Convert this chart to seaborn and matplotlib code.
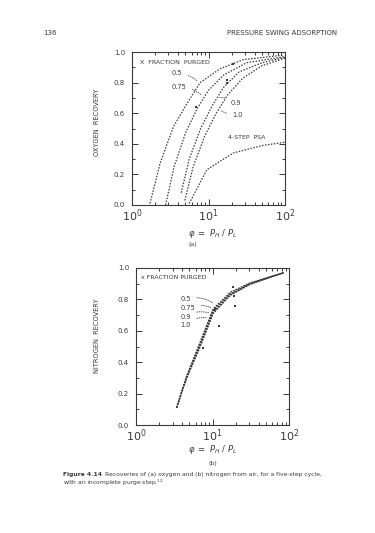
import matplotlib
matplotlib.use("Agg")
import matplotlib.pyplot as plt
import seaborn as sns
import pandas as pd
import numpy as np
from matplotlib.ticker import FixedLocator, LogLocator, NullFormatter

# ---------------- data ----------------
# (a) oxygen recovery vs pressure ratio, by fraction purged
ox_05_x = [1.72, 2.32, 3.47, 5.19, 7.76, 14.1, 28.5, 95.5]
ox_05_y = [0.01, 0.27, 0.51, 0.66, 0.80, 0.89, 0.95, 0.98]
ox_075_x = [2.75, 3.55, 5.0, 7.1, 10.0, 15.8, 31.6, 100.0]
ox_075_y = [0.0, 0.25, 0.47, 0.63, 0.75, 0.85, 0.93, 0.97]
ox_09_x = [4.4, 5.6, 7.9, 11.2, 15.8, 25.1, 50.0, 100.0]
ox_09_y = [0.08, 0.30, 0.50, 0.65, 0.77, 0.87, 0.93, 0.965]
ox_10_x = [4.9, 6.3, 8.9, 12.6, 17.8, 28.2, 50.0, 100.0]
ox_10_y = [0.03, 0.25, 0.45, 0.60, 0.72, 0.83, 0.91, 0.96]
ox_psa_x = [5.6, 9.5, 21.0, 52.0, 100.0]
ox_psa_y = [0.01, 0.23, 0.34, 0.39, 0.41]
ox_pts_x = [6.9, 17.4, 17.4, 20.9]
ox_pts_y = [0.64, 0.82, 0.80, 0.92]

# (b) nitrogen recovery
n2_x = [3.39, 4.57, 6.92, 10.2, 17.0, 30.9, 85.1]
n2_05_y = [0.11, 0.31, 0.53, 0.74, 0.845, 0.905, 0.97]
n2_075_y = [0.11, 0.305, 0.52, 0.73, 0.835, 0.90, 0.97]
n2_09_y = [0.11, 0.30, 0.51, 0.72, 0.83, 0.90, 0.97]
n2_10_y = [0.11, 0.295, 0.50, 0.71, 0.825, 0.895, 0.97]
n2_pts_x = [10.7, 18.6, 19.1, 19.5, 12.0, 7.6]
n2_pts_y = [0.74, 0.88, 0.82, 0.76, 0.63, 0.49]

fractions = ["0.5", "0.75", "0.9", "1.0"]
y_ticks = [0.0, 0.2, 0.4, 0.6, 0.8, 1.0]
y_labels = ["0.0", "0.2", "0.4", "0.6", "0.8", "1.0"]
x_ticks = [1, 10, 100]
x_labels = [r"$10^0$", r"$10^1$", r"$10^2$"]

# ---------------- styling ----------------
sns.set_style("ticks")
plt.rcParams["font.family"] = ["DejaVu Sans"]
INK = "#3a3a3a"

fig = plt.figure(figsize=(3.75, 5.33), dpi=100)
axA = fig.add_axes([0.352, 0.6154, 0.408, 0.287])
axB = fig.add_axes([0.3627, 0.2026, 0.408, 0.2946])

def long_df(xs, ys, name):
    return pd.DataFrame({"x": xs, "y": ys, "s": name})

dfA = pd.concat([
    long_df(ox_05_x, ox_05_y, "0.5"),
    long_df(ox_075_x, ox_075_y, "0.75"),
    long_df(ox_09_x, ox_09_y, "0.9"),
    long_df(ox_10_x, ox_10_y, "1.0"),
    long_df(ox_psa_x, ox_psa_y, "psa"),
])
dfB = pd.concat([
    long_df(n2_x, n2_05_y, "0.5"),
    long_df(n2_x, n2_075_y, "0.75"),
    long_df(n2_x, n2_09_y, "0.9"),
    long_df(n2_x, n2_10_y, "1.0"),
])

pal = {k: INK for k in ["0.5", "0.75", "0.9", "1.0", "psa"]}
sns.lineplot(data=dfA, x="x", y="y", hue="s", palette=pal, ax=axA, legend=False,
             sort=False, estimator=None, linewidth=0.9, linestyle=(0, (1.2, 1.2)))
sns.lineplot(data=dfB, x="x", y="y", hue="s", palette=pal, ax=axB, legend=False,
             sort=False, estimator=None, linewidth=0.9, linestyle=(0, (1.5, 0.8)))
sns.scatterplot(x=ox_pts_x, y=ox_pts_y, ax=axA, color=INK, marker="s", s=4, linewidth=0)
sns.scatterplot(x=n2_pts_x, y=n2_pts_y, ax=axB, color=INK, marker="s", s=4, linewidth=0)

for ax in (axA, axB):
    ax.set_xscale("log")
    ax.set_xlim(1, 100)
    ax.set_ylim(0, 1.0)
    ax.set_xticks(x_ticks)
    ax.set_xticklabels(x_labels, fontsize=8, color=INK)
    ax.xaxis.set_minor_locator(LogLocator(base=10, subs=np.arange(2, 10)))
    ax.xaxis.set_minor_formatter(NullFormatter())
    ax.set_yticks(y_ticks)
    ax.set_yticklabels(y_labels, fontsize=5, color=INK)
    ax.yaxis.set_minor_locator(FixedLocator([0.1, 0.3, 0.5, 0.7, 0.9]))
    ax.tick_params(which="both", direction="in", top=True, right=True, colors=INK,
                   width=0.7)
    ax.tick_params(which="major", length=4)
    ax.tick_params(axis="x", which="major", pad=2)
    ax.tick_params(axis="y", which="major", pad=5)
    ax.tick_params(which="minor", length=2.5)
    for sp in ax.spines.values():
        sp.set_visible(True)
        sp.set_linewidth(0.8)
        sp.set_color(INK)
    ax.set_xlabel("")
    ax.set_ylabel("")

# ---- panel (a) text ----
axA.text(0.05, 0.93, "X  FRACTION  PURGED", transform=axA.transAxes, fontsize=4.5,
         color=INK, va="center")
axA.text(0.63, 0.44, "4-STEP  PSA", transform=axA.transAxes, fontsize=4.5,
         color=INK, va="center")
ann_kw = dict(fontsize=4.8, color=INK, va="center")
axA.annotate("0.5", xy=(7.5, 0.80), xytext=(3.3, 0.86),
             arrowprops=dict(arrowstyle="-", color=INK, lw=0.6, ls=":",
                             connectionstyle="arc3,rad=-0.2"), **ann_kw)
axA.annotate("0.75", xy=(8.5, 0.71), xytext=(3.3, 0.77),
             arrowprops=dict(arrowstyle="-", color=INK, lw=0.6, ls=":",
                             connectionstyle="arc3,rad=-0.2"), **ann_kw)
axA.annotate("0.9", xy=(12.9, 0.70), xytext=(19.5, 0.67),
             arrowprops=dict(arrowstyle="-", color=INK, lw=0.6, ls=":",
                             connectionstyle="arc3,rad=0.2"), **ann_kw)
axA.annotate("1.0", xy=(13.5, 0.63), xytext=(20.5, 0.59),
             arrowprops=dict(arrowstyle="-", color=INK, lw=0.6, ls=":",
                             connectionstyle="arc3,rad=-0.2"), **ann_kw)

# ---- panel (b) text ----
axB.text(0.03, 0.94, "x FRACTION PURGED", transform=axB.transAxes, fontsize=4.5,
         color=INK, va="center")
nb = [(10.7, 0.77, 0.80), (10.2, 0.74, 0.745), (9.6, 0.71, 0.69), (9.0, 0.68, 0.64)]
for lab, (xe, ye, yt) in zip(fractions, nb):
    axB.annotate(lab, xy=(xe, ye), xytext=(3.8, yt),
                 arrowprops=dict(arrowstyle="-", color=INK, lw=0.6, ls=":",
                                 connectionstyle="arc3,rad=-0.25"), **ann_kw)

# axis titles
fig.text(0.258, 0.77, "OXYGEN  RECOVERY", rotation=90, fontsize=4.8, color=INK,
         ha="center", va="center")
fig.text(0.258, 0.37, "NITROGEN  RECOVERY", rotation=90, fontsize=4.8, color=INK,
         ha="center", va="center")
fig.text(0.568, 0.561, r"$\varphi\ =\ P_H\ /\ P_L$", fontsize=6, color=INK,
         ha="center", va="center")
fig.text(0.515, 0.541, "(a)", fontsize=4.5, color=INK, ha="center", va="center")
fig.text(0.568, 0.156, r"$\varphi\ =\ P_H\ /\ P_L$", fontsize=6, color=INK,
         ha="center", va="center")
fig.text(0.568, 0.131, "(b)", fontsize=4.5, color=INK, ha="center", va="center")

# page header and caption
fig.text(0.133, 0.938, "136", fontsize=5, color=INK, ha="center", va="center")
fig.text(0.9, 0.938, "PRESSURE SWING ADSORPTION", fontsize=5, color=INK,
         ha="right", va="center")
fig.text(0.168, 0.109, "Figure 4.14", fontsize=4.3, color=INK, ha="left",
         va="center", fontweight="bold")
fig.text(0.28, 0.109, "Recoveries of (a) oxygen and (b) nitrogen from air, for a five-step cycle,",
         fontsize=4.3, color=INK, ha="left", va="center")
fig.text(0.168, 0.094, "with an incomplete purge step.$^{12}$",
         fontsize=4.3, color=INK, ha="left", va="center")

fig.savefig("out.png", dpi=100, facecolor="white")
